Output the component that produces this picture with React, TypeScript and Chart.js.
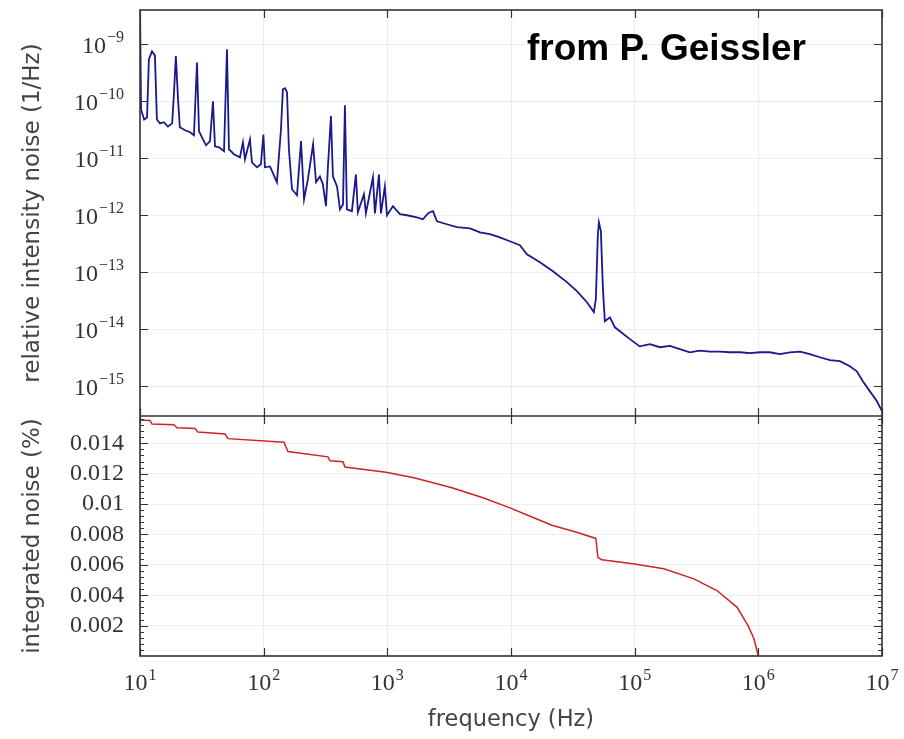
import React, { useEffect, useRef } from 'react';
import { Chart, registerables } from 'chart.js';

Chart.register(...registerables);

// ---- relative intensity noise spectrum (top panel) ----
const rinFreqHz = [
  10, 10.2, 10.8, 11.4, 11.8, 12.5, 13.2, 13.7, 14.5, 15.6, 16.8, 18.2, 18.8, 19.5, 20.3, 21.0,
  23.1, 25.4, 27.3, 28.9, 30.0, 32.3, 34.2, 36.8, 38.9, 40.4, 43.5, 47.8, 50.5, 52.4, 57.5, 64.3,
  68.0, 70.6, 77.5, 80.4, 88.3, 95, 99.5, 102.4, 112.5, 128, 138, 143, 149, 154.5, 160, 169.5,
  186, 200.5, 212, 228, 251, 265, 285, 301, 319, 331, 350, 363, 392, 414, 438, 454, 471, 517,
  557, 578, 647, 671, 765, 794, 855, 888, 955, 993, 1110, 1264, 1440, 1733, 1940, 2130, 2210,
  2340, 2520, 3030, 3650, 4660, 5610, 6750, 8130, 9790, 11800, 13450, 17140, 21830, 28320,
  34120, 41100, 46800, 48550, 50400, 51400, 53300, 55400, 57400, 63100, 69200, 75900, 91500,
  110000, 132700, 160000, 192700, 232000, 279000, 337000, 406000, 489000, 589000, 709000,
  854000, 1.03e6, 1.24e6, 1.49e6, 1.8e6, 2.17e6, 2.61e6, 3.14e6, 3.79e6, 4.56e6, 5.5e6,
  6.26e6, 7.0e6, 7.96e6, 9.08e6, 1.0e7,
];
const rinValues = [
  5e-9, 7.2e-11, 4.8e-11, 5.2e-11, 5.5e-10, 7.5e-10, 6.4e-10, 4.8e-11, 4.1e-11, 4.3e-11, 3.6e-11,
  4.1e-11, 1.33e-10, 6.2e-10, 1.08e-10, 3.5e-11,
  3.1e-11, 2.86e-11, 2.53e-11, 4.8e-10, 2.98e-11, 2.15e-11, 1.69e-11, 2.0e-11, 1.0e-10, 1.62e-11,
  1.56e-11, 1.33e-11, 8.2e-10, 1.44e-11, 1.18e-11, 1.04e-11,
  1.9e-11, 9.6e-12, 2.15e-11, 8.5e-12, 6.95e-12, 7.85e-12, 2.6e-11, 6.95e-12, 7.2e-12, 3.8e-12,
  3.2e-11, 1.62e-10, 1.7e-10, 1.44e-10, 1.44e-11, 2.86e-12,
  2.24e-12, 2.0e-11, 1.9e-12, 4.3e-12, 1.76e-11, 3.8e-12, 4.8e-12, 3.5e-12, 1.44e-12, 7.2e-12,
  5.5e-11, 4.8e-12, 3.2e-12, 1.27e-12, 1.55e-12, 8.5e-11, 1.27e-12, 1.18e-12,
  5.2e-12, 1.13e-12, 2.33e-12, 1.08e-12, 4.65e-12, 1.08e-12, 5.2e-12, 1.08e-12, 3.2e-12, 1.0e-12,
  1.44e-12, 1.05e-12, 1.0e-12, 9.2e-13, 8.5e-13, 1.08e-12, 1.13e-12,
  1.18e-12, 7.85e-13, 6.95e-13, 6.2e-13, 5.9e-13, 5.0e-13, 4.65e-13, 4.1e-13, 3.5e-13, 2.98e-13,
  2.07e-13, 1.5e-13, 1.04e-13, 6.7e-14,
  4.65e-14, 2.98e-14, 2.0e-14, 3.4e-14, 4.65e-13, 7.5e-13, 5.25e-13, 5.0e-14, 1.38e-14, 1.62e-14,
  1.08e-14, 9.2e-15, 6.7e-15,
  5.0e-15, 5.45e-15, 4.83e-15, 5.1e-15, 4.46e-15, 3.94e-15, 4.2e-15, 4.05e-15, 4.05e-15, 3.94e-15,
  3.94e-15,
  3.8e-15, 3.94e-15, 3.94e-15, 3.65e-15, 3.94e-15, 4.05e-15, 3.65e-15, 3.22e-15, 2.86e-15,
  2.75e-15, 2.24e-15,
  1.83e-15, 1.22e-15, 8.2e-16, 5.5e-16, 3.65e-16,
];

// ---- integrated noise (bottom panel) ----
const intFreqHz = [
  10, 12.04, 12.5, 18.8, 19.9, 27.9, 29.4, 48.7, 51.4, 146, 157, 331, 344, 438, 454, 975, 1640,
  3330, 5930, 9700, 13960, 21430, 32890, 48550, 50400, 54300, 96600, 172000, 301000, 462000,
  671000, 824000, 921000, 1.0e6,
];
const intValues = [
  0.01553, 0.01551, 0.01527, 0.01523, 0.01503, 0.01498, 0.01474, 0.01462, 0.01431, 0.01407,
  0.01346, 0.01311, 0.01285, 0.01279, 0.01244, 0.0121, 0.01173, 0.01108, 0.01042, 0.00977,
  0.00923, 0.00861, 0.00818, 0.00774, 0.00649, 0.00633, 0.00607, 0.00574, 0.00508, 0.00431,
  0.00322, 0.00202, 0.00115, 0,
];

// ---- ticks ----
const xTickValues = [1e1, 1e2, 1e3, 1e4, 1e5, 1e6, 1e7];
const xTickExponents = ['1', '2', '3', '4', '5', '6', '7'];
const rinTickValues = [1e-15, 1e-14, 1e-13, 1e-12, 1e-11, 1e-10, 1e-9];
const rinTickExponents = ['\u221215', '\u221214', '\u221213', '\u221212', '\u221211', '\u221210', '\u22129'];
const tickBase = '10';
const intTickValues = [0.002, 0.004, 0.006, 0.008, 0.01, 0.012, 0.014];
const intTickLabels = ['0.002', '0.004', '0.006', '0.008', '0.01', '0.012', '0.014'];
const intMinorStep = 0.0004;

const serif = "'Liberation Serif', 'Times New Roman', serif";
const sans = "'DejaVu Sans', sans-serif";
const gridColor = 'rgba(0,0,0,0.07)';
const tickTextColor = '#333';
const titleColor = '#444';

const framePlugin = {
  id: 'frame',
  afterDraw(chart: any) {
    const { ctx, chartArea: a, scales } = chart;
    const xs = scales.x;
    const yr = scales.yRin;
    const yi = scales.yInt;
    ctx.save();
    ctx.strokeStyle = '#333';
    ctx.lineWidth = 1.6;
    ctx.strokeRect(a.left, a.top, a.right - a.left, a.bottom - a.top);
    ctx.beginPath();
    ctx.moveTo(a.left, yi.top);
    ctx.lineTo(a.right, yi.top);
    ctx.stroke();

    const major = 8;
    const minor = 4;
    ctx.lineWidth = 1.2;
    ctx.beginPath();
    for (const v of xTickValues) {
      const px = Math.round(xs.getPixelForValue(v)) + 0.5;
      ctx.moveTo(px, a.top);
      ctx.lineTo(px, a.top + major);
      ctx.moveTo(px, yi.top - major);
      ctx.lineTo(px, yi.top + major);
      ctx.moveTo(px, a.bottom);
      ctx.lineTo(px, a.bottom - major);
    }
    for (const v of rinTickValues) {
      const py = Math.round(yr.getPixelForValue(v)) + 0.5;
      ctx.moveTo(a.left, py);
      ctx.lineTo(a.left + major, py);
      ctx.moveTo(a.right, py);
      ctx.lineTo(a.right - major, py);
    }
    for (const v of intTickValues) {
      const py = Math.round(yi.getPixelForValue(v)) + 0.5;
      ctx.moveTo(a.left, py);
      ctx.lineTo(a.left + major, py);
      ctx.moveTo(a.right, py);
      ctx.lineTo(a.right - major, py);
    }
    ctx.stroke();
    ctx.lineWidth = 1;
    ctx.beginPath();
    for (let k = 1; k * intMinorStep < yi.max; k++) {
      const py = Math.round(yi.getPixelForValue(k * intMinorStep)) + 0.5;
      ctx.moveTo(a.left, py);
      ctx.lineTo(a.left + minor, py);
      ctx.moveTo(a.right, py);
      ctx.lineTo(a.right - minor, py);
    }
    ctx.stroke();

    // power-of-ten tick labels with real superscripts
    const baseFont = `24px ${serif}`;
    const expFont = `16px ${serif}`;
    ctx.fillStyle = tickTextColor;
    ctx.textBaseline = 'alphabetic';
    ctx.textAlign = 'left';
    ctx.font = baseFont;
    const baseW = ctx.measureText(tickBase).width;

    xTickValues.forEach((v, i) => {
      const px = xs.getPixelForValue(v);
      ctx.font = expFont;
      const expW = ctx.measureText(xTickExponents[i]).width;
      const total = baseW + 1 + expW;
      const x0 = px - total / 2;
      ctx.font = baseFont;
      ctx.fillText(tickBase, x0, a.bottom + 34);
      ctx.font = expFont;
      ctx.fillText(xTickExponents[i], x0 + baseW + 1, a.bottom + 24);
    });

    rinTickValues.forEach((v, i) => {
      const py = yr.getPixelForValue(v);
      ctx.font = expFont;
      const expW = ctx.measureText(rinTickExponents[i]).width;
      const right = a.left - 16;
      const expX = right - expW;
      const baseX = expX - 1 - baseW;
      ctx.font = baseFont;
      ctx.fillText(tickBase, baseX, py + 9);
      ctx.font = expFont;
      ctx.fillText(rinTickExponents[i], expX, py - 2);
    });
    ctx.restore();
  },
};

export default function App() {
  const ref = useRef<HTMLCanvasElement>(null);

  useEffect(() => {
    if (!ref.current) return;
    const chart = new Chart(ref.current, {
      type: 'line',
      data: {
        datasets: [
          {
            label: 'relative intensity noise',
            data: rinFreqHz.map((f, i) => ({ x: f, y: rinValues[i] })),
            yAxisID: 'yRin',
            borderColor: '#1a1a8e',
            borderWidth: 1.8,
            pointRadius: 0,
            tension: 0,
            fill: false,
          },
          {
            label: 'integrated noise',
            data: intFreqHz.map((f, i) => ({ x: f, y: intValues[i] })),
            yAxisID: 'yInt',
            borderColor: '#cc2424',
            borderWidth: 1.5,
            pointRadius: 0,
            tension: 0,
            fill: false,
          },
        ],
      },
      options: {
        responsive: false,
        animation: false,
        devicePixelRatio: 1,
        layout: { padding: { top: 10, right: 22, left: 0, bottom: 0 } },
        plugins: {
          legend: { display: false },
          tooltip: { enabled: false },
        },
        scales: {
          x: {
            type: 'logarithmic',
            position: 'bottom',
            min: 10,
            max: 1e7,
            afterBuildTicks: (s: any) => {
              s.ticks = xTickValues.map((v) => ({ value: v }));
            },
            afterFit: (s: any) => {
              s.height = 83;
              s.paddingLeft = 0;
              s.paddingRight = 0;
            },
            ticks: { display: false },
            grid: { color: gridColor, drawTicks: false },
            border: { display: false },
            title: {
              display: true,
              text: 'frequency (Hz)',
              color: titleColor,
              font: { family: sans, size: 22.5 },
              padding: { top: 0, bottom: 5 },
            },
          },
          yInt: {
            type: 'linear',
            position: 'left',
            stack: 'panels',
            stackWeight: 240,
            min: 0,
            max: 0.0158,
            afterBuildTicks: (s: any) => {
              s.ticks = intTickValues.map((v) => ({ value: v }));
            },
            afterFit: (s: any) => {
              s.width = 140;
              s.paddingTop = 0;
              s.paddingBottom = 0;
            },
            ticks: {
              autoSkip: false,
              padding: 16,
              color: tickTextColor,
              font: { family: serif, size: 24 },
              callback: (_v: any, i: number) => intTickLabels[i],
            },
            grid: { color: gridColor, drawTicks: false },
            border: { display: false },
            title: {
              display: true,
              text: 'integrated noise (%)',
              color: titleColor,
              font: { family: sans, size: 23 },
              padding: { top: 19, bottom: 0 },
            },
          },
          yRin: {
            type: 'logarithmic',
            position: 'left',
            stack: 'panels',
            stackWeight: 406,
            min: 3e-16,
            max: 4e-9,
            afterBuildTicks: (s: any) => {
              s.ticks = rinTickValues.map((v) => ({ value: v }));
            },
            afterFit: (s: any) => {
              s.width = 140;
              s.paddingTop = 0;
              s.paddingBottom = 0;
            },
            ticks: { display: false },
            grid: { color: gridColor, drawTicks: false },
            border: { display: false },
            title: {
              display: true,
              text: 'relative intensity noise (1/Hz)',
              color: titleColor,
              font: { family: sans, size: 23 },
              padding: { top: 19, bottom: 0 },
            },
          },
        },
      } as any,
      plugins: [framePlugin],
    });
    return () => chart.destroy();
  }, []);

  return (
    <div style={{ position: 'fixed', left: 0, top: 0, width: 904, height: 739, background: '#fff' }}>
      <canvas ref={ref} width={904} height={739} style={{ display: 'block', width: 904, height: 739 }} />
      <div
        style={{
          position: 'absolute',
          left: 527,
          top: 29,
          font: "bold 37px 'Liberation Sans', Arial, sans-serif",
          lineHeight: '37px',
          color: '#000',
          whiteSpace: 'nowrap',
        }}
      >
        from P. Geissler
      </div>
    </div>
  );
}
